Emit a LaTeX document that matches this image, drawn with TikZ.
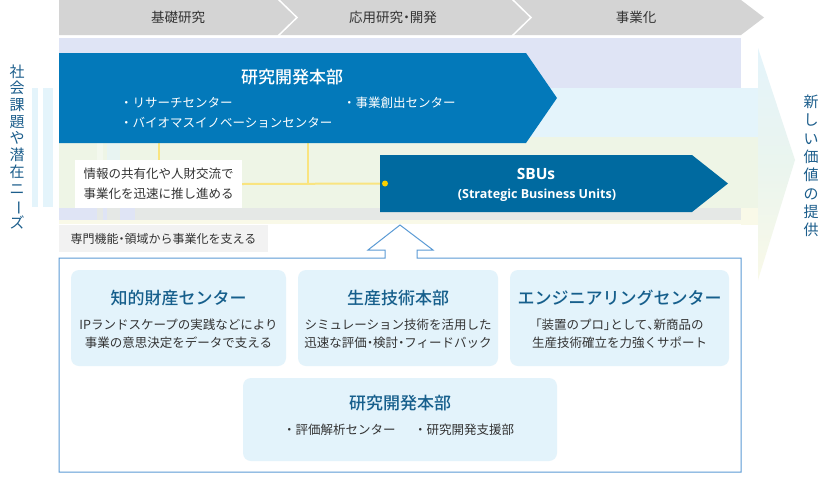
\documentclass[tikz,border=0pt]{standalone}
\usepackage{fontspec}
\usepackage{graphicx}
\setmainfont{Noto Sans CJK JP}
\newfontfamily\opensans{Open Sans}
\newfontfamily\medfont{Noto Sans CJK JP Medium}
\newcommand\pl[1]{{\addfontfeatures{RawFeature=+palt}#1}}
\definecolor{headgray}{RGB}{212,212,212}
\definecolor{lavbg}{RGB}{223,228,245}
\definecolor{cyanbg}{RGB}{228,244,251}
\definecolor{greenbg}{RGB}{238,245,230}
\definecolor{graybg}{RGB}{229,232,230}
\definecolor{yelbg}{RGB}{249,249,232}
\definecolor{blueA}{RGB}{3,121,186}
\definecolor{blueB}{RGB}{0,106,160}
\definecolor{ylline}{RGB}{249,228,128}
\definecolor{yldot}{RGB}{250,208,0}
\definecolor{outl}{RGB}{91,155,213}
\definecolor{boxfill}{RGB}{227,243,251}
\definecolor{titleblue}{RGB}{22,95,140}
\definecolor{txtgray}{RGB}{51,51,51}
\definecolor{vblue}{RGB}{28,94,140}
\definecolor{labgray}{RGB}{242,242,242}
\newcommand\fsz[2]{\fontsize{#1}{#2}\selectfont}
\begin{document}
\begin{tikzpicture}[x=1pt,y=-1pt,
  lbl/.style={inner sep=0pt, text=txtgray},
  headlbl/.style={lbl, font=\fsz{13.5}{15}},
  wtitle/.style={inner sep=0pt, text=white, font=\medfont\fsz{17}{20}},
  wbul/.style={inner sep=0pt, text=white, font=\fsz{12.5}{15}, anchor=west},
  vtext/.style={inner sep=0pt, text=vblue, align=center},
  ubox/.style={fill=boxfill, rounded corners=8pt},
  btitle/.style={inner sep=0pt, text=titleblue, font=\medfont\fsz{17}{20}},
  bdesc/.style={inner sep=0pt, text=txtgray, font=\fsz{12.5}{18}, align=center},
  yl/.style={draw=ylline, line width=2pt},
  sep/.style={draw=white, line width=1.5pt}
]
\useasboundingbox (0,0) rectangle (828,491);
\fill[white] (0,0) rectangle (828,491);

% header band
\fill[headgray] (59,0) -- (741,0) -- (764,17.5) -- (741,35) -- (59,35) -- cycle;
\draw[sep] (278,-1) -- (297,17.5) -- (278,36);
\draw[sep] (512,-1) -- (531,17.5) -- (512,36);
\node[headlbl] (h1) at (178,17.5) {基礎研究};
\node[headlbl] (h2) at (393,17.5) {応用研究\pl{・}開発};
\node[headlbl] (h3) at (636,17.5) {事業化};

% background bands
\fill[lavbg] (59,38) rectangle (741,88);
\fill[cyanbg] (59,88) rectangle (758,137);
\fill[greenbg] (59,137) rectangle (758,208);
\fill[graybg] (59,208) rectangle (741,220);
\fill[yelbg] (59,220) rectangle (741,224);
\fill[yelbg] (741,208) rectangle (758,225);
% right big arrow
\shade[top color=cyanbg, bottom color=yelbg, middle color=greenbg!60!cyanbg]
  (758,48) -- (795,160) -- (758,280) -- cycle;
% left tail stripes
\fill[cyanbg] (32,88) rectangle (38,207);
\fill[cyanbg] (43,88) rectangle (53,207);
% faint stripes inside band
\fill[white, opacity=0.35] (97,137) rectangle (103,208);
\fill[cyanbg, opacity=0.6] (107,137) rectangle (120,208);
\fill[lavbg] (59,208) rectangle (97,220);
\fill[lavbg] (103,208) rectangle (107,220);
\fill[lavbg] (120,208) rectangle (135,220);

% connectors (yellow)
\coordinate (rdb1) at (159,143);
\coordinate (rdb2) at (308,143);
\coordinate (sbudot) at (385,183.5);
\node[fill=white, minimum width=167pt, minimum height=48pt, inner sep=0pt,
      text=txtgray, align=center, font=\fsz{12.5}{20}] (info) at (158.5,184)
  {情報の共有化や人財交流で\\事業化を迅速に推し進める};
\draw[yl] (rdb1) -- (info.north -| rdb1);
\draw[yl] (rdb2) -- (rdb2 |- info.east);
\draw[yl] (info.east) -- (sbudot);

% blue arrow 1
\fill[blueA] (59,53) -- (526,53) -- (557,98) -- (526,143) -- (59,143) -- cycle;
\node[wtitle] (rdt) at (292,77) {研究開発本部};
\node[wbul] (rdb1t) at (120,103) {・リサーチセンター};
\node[wbul] (rdb2t) at (120,123) {・バイオマスイノベーションセンター};
\node[wbul] (rdb3t) at (343,103) {・事業創出センター};

% blue arrow 2
\fill[blueB] (380,155) -- (692,155) -- (728,183.5) -- (692,212) -- (380,212) -- cycle;
\node[inner sep=0pt, text=white, font=\opensans\fsz{15.5}{18}\bfseries] (sbu) at (536,174) {SBUs};
\node[inner sep=0pt, text=white, font=\opensans\fsz{12.5}{14}\bfseries] (sbus) at (537,195) {(Strategic Business Units)};
\fill[yldot] (sbudot) circle (3pt);

% gray label
\node[fill=labgray, minimum width=209pt, minimum height=27pt, inner sep=0pt,
      text=txtgray, font=\fsz{12}{14}] (sup) at (163.5,238.5) {専門機能\pl{・}領域から事業化を支える};

% outline with up arrow
\draw[outl, line width=1pt, line join=miter]
  (385,258) -- (59,258) -- (59,472) -- (741,472) -- (741,258) -- (417,258)
  -- (417,250) -- (433,250) -- (400,225) -- (368,250) -- (385,250) -- cycle;

% boxes
\fill[ubox] (71,270) rectangle (286,366);
\fill[ubox] (298,270) rectangle (498,366);
\fill[ubox] (510,270) rectangle (729,366);
\fill[ubox] (243,378) rectangle (557,461);

\node[btitle] (t1) at (178.5,298) {知的財産センター};
\node[bdesc] (d1) at (178.5,334) {IPランドスケープの実践などにより\\事業の意思決定をデータで支える};
\node[btitle] (t2) at (398,298) {生産技術本部};
\node[bdesc] (d2) at (398,334) {シミュレーション技術を活用した\\迅速な評価\pl{・}検討\pl{・}フィードバック};
\node[btitle] (t3) at (619.5,298) {エンジニアリングセンター};
\node[bdesc] (d3) at (619.5,334) {\pl{「}装置のプロ\pl{」}として\pl{、}新商品の\\生産技術確立を力強くサポート};
\node[btitle] (t4) at (400,403) {研究開発本部};
\node[inner sep=0pt, text=txtgray, font=\fsz{12.5}{15}, anchor=west] (b41) at (283,430) {・評価解析センター};
\node[inner sep=0pt, text=txtgray, font=\fsz{12.5}{15}, anchor=west] (b42) at (414,430) {・研究開発支援部};

% vertical texts
\node[vtext, font=\fsz{15}{16.7}] (leftv) at (17,147)
  {社\\会\\課\\題\\や\\潜\\在\\ニ\\\rotatebox[origin=c]{-90}{ー}\\ズ};
\node[vtext, font=\fsz{15}{18.3}] (rightv) at (811,166)
  {新\\し\\い\\価\\値\\の\\提\\供};
\end{tikzpicture}
\end{document}
